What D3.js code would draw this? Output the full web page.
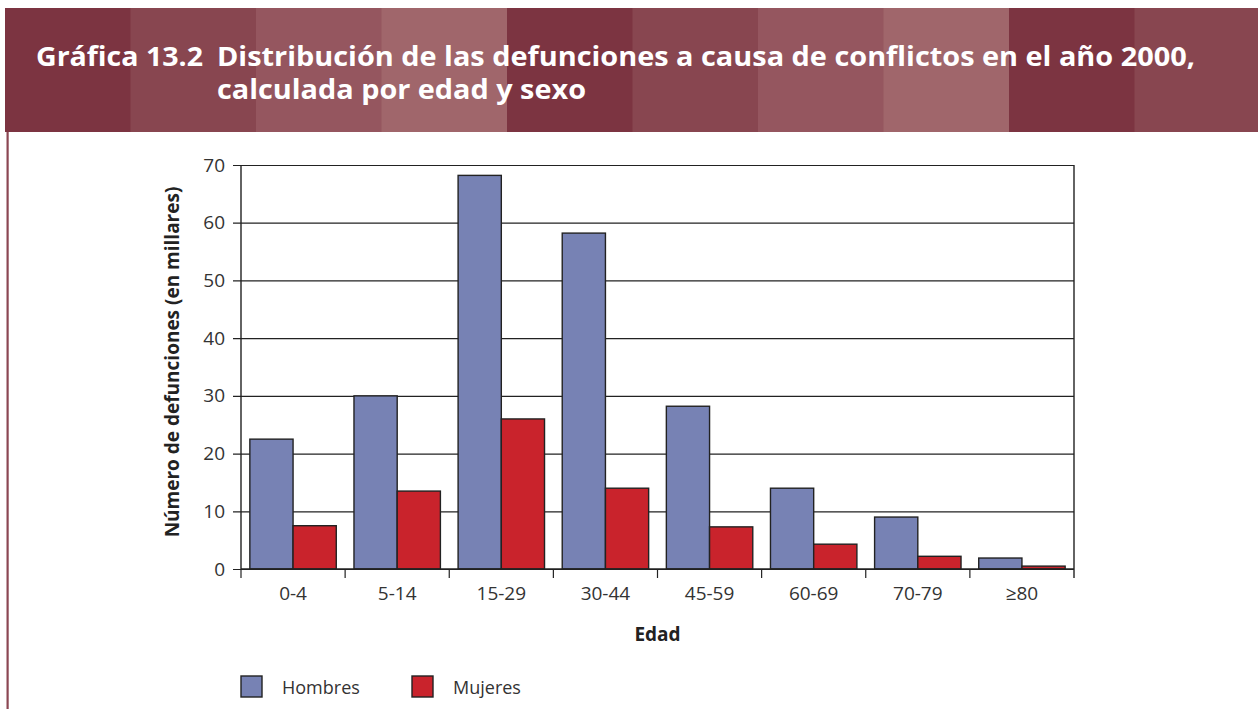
<!DOCTYPE html>
<html>
<head>
<meta charset="utf-8">
<script src="https://cdn.jsdelivr.net/npm/d3@7"></script>
<style>
  html, body { margin: 0; padding: 0; background: #fff; }
  svg { display: block; }
  text { font-family: "Open Sans", "Noto Sans", sans-serif; }
</style>
</head>
<body>
<svg id="chart" width="1258" height="709"></svg>
<script>
// Age groups and deaths (thousands) by sex
const categories = ["0-4", "5-14", "15-29", "30-44", "45-59", "60-69", "70-79", "\u226580"];
const hombres = [22.5, 30.0, 68.2, 58.2, 28.2, 14.0, 9.0, 1.9];
const mujeres = [7.5, 13.5, 26.0, 14.0, 7.3, 4.3, 2.2, 0.5];
const yTicks = [0, 10, 20, 30, 40, 50, 60, 70];
const seriesNames = ["Hombres", "Mujeres"];
const seriesColors = ["#7782b4", "#c9232c"];

const titleLabel = "Gráfica 13.2";
const titleLines = ["Distribución de las defunciones a causa de conflictos en el año 2000,",
                    "calculada por edad y sexo"];
const titleLineWidths = [978, 369];
const stripeColors = ["#7c3441", "#884650", "#95565f", "#a0666b"];

const svg = d3.select("#chart");

// Banded header
const header = svg.append("g");
const stripeW = 125.5;
const stripeIdx = d3.range(10);
header.selectAll("rect").data(stripeIdx).join("rect")
  .attr("x", i => 5 + i * stripeW)
  .attr("y", 8)
  .attr("width", i => Math.min(stripeW + 0.5, 1258 - (5 + i * stripeW)))
  .attr("height", 124)
  .attr("fill", i => stripeColors[i % 4]);

header.append("text")
  .attr("x", 36).attr("y", 66)
  .attr("fill", "#fff").attr("font-size", 26.5).attr("font-weight", 700)
  .attr("textLength", 167).attr("lengthAdjust", "spacingAndGlyphs")
  .text(titleLabel);
header.selectAll("text.line").data(titleLines).join("text")
  .attr("class", "line")
  .attr("x", 217).attr("y", (d, i) => 66 + i * 33)
  .attr("fill", "#fff").attr("font-size", 26.5).attr("font-weight", 700)
  .attr("textLength", (d, i) => titleLineWidths[i]).attr("lengthAdjust", "spacingAndGlyphs")
  .text(d => d);

// Left frame rule
svg.append("rect").attr("x", 6.5).attr("y", 132).attr("width", 2.2).attr("height", 577)
  .attr("fill", "#8b4753");

// Plot area
const pLeft = 241, pRight = 1074, pTop = 165, pBottom = 569;
const x = d3.scaleBand().domain(categories).range([pLeft, pRight]).paddingInner(0.17).paddingOuter(0.085);
const xCat = d3.scaleBand().domain(categories).range([pLeft, pRight]);
const xSub = d3.scaleBand().domain(seriesNames).range([0, x.bandwidth()]);
const y = d3.scaleLinear().domain([0, 70]).range([pBottom, pTop]);

const plot = svg.append("g");

// Gridlines with outward ticks on the left
plot.append("g")
  .attr("transform", `translate(${pLeft},0)`)
  .call(d3.axisLeft(y).tickValues(yTicks).tickSize(-(pRight - pLeft)).tickSizeOuter(0).tickPadding(0))
  .call(g => g.select(".domain").remove())
  .call(g => g.selectAll(".tick line").attr("x1", -8).attr("stroke", "#222").attr("stroke-width", 1.2))
  .call(g => g.selectAll(".tick text").attr("x", -16).attr("fill", "#333").attr("font-size", 19)
    .attr("font-family", "Open Sans, sans-serif"));

// Left and right frame
plot.append("line").attr("x1", pLeft).attr("x2", pLeft).attr("y1", pTop).attr("y2", pBottom)
  .attr("stroke", "#222").attr("stroke-width", 1.4);
plot.append("line").attr("x1", pRight).attr("x2", pRight).attr("y1", pTop).attr("y2", pBottom + 9)
  .attr("stroke", "#222").attr("stroke-width", 1.4);

// Bars
const groups = plot.selectAll("g.grp").data(categories).join("g")
  .attr("class", "grp")
  .attr("transform", d => `translate(${x(d)},0)`);
groups.selectAll("rect").data((d, i) => [
    { s: seriesNames[0], v: hombres[i], c: seriesColors[0] },
    { s: seriesNames[1], v: mujeres[i], c: seriesColors[1] }
  ]).join("rect")
  .attr("x", d => xSub(d.s))
  .attr("y", d => y(d.v))
  .attr("width", xSub.bandwidth())
  .attr("height", d => y(0) - y(d.v))
  .attr("fill", d => d.c)
  .attr("stroke", "#222").attr("stroke-width", 1.4);

// X axis with ticks at category boundaries
const xAxis = plot.append("g").attr("transform", `translate(0,${pBottom})`);
xAxis.append("line").attr("x1", pLeft).attr("x2", pRight).attr("stroke", "#222").attr("stroke-width", 1.4);
xAxis.selectAll("line.tk").data(categories).join("line")
  .attr("class", "tk")
  .attr("x1", d => xCat(d)).attr("x2", d => xCat(d))
  .attr("y1", 0).attr("y2", 9)
  .attr("stroke", "#222").attr("stroke-width", 1.2);
xAxis.selectAll("text").data(categories).join("text")
  .attr("x", d => xCat(d) + xCat.bandwidth() / 2)
  .attr("y", 31)
  .attr("text-anchor", "middle")
  .attr("fill", "#333").attr("font-size", 19)
  .text(d => d);

// Axis titles
svg.append("text")
  .attr("x", (pLeft + pRight) / 2).attr("y", 641)
  .attr("text-anchor", "middle").attr("font-weight", 700).attr("font-size", 19).attr("fill", "#222")
  .text("Edad");
svg.append("text")
  .attr("transform", `translate(179,${(pTop + pBottom) / 2 - 5}) rotate(-90)`)
  .attr("text-anchor", "middle").attr("font-weight", 700).attr("font-size", 19).attr("fill", "#222")
  .text("Número de defunciones (en millares)");

// Legend
const legend = svg.append("g").attr("transform", "translate(241,676)");
const legItems = legend.selectAll("g").data(seriesNames).join("g")
  .attr("transform", (d, i) => `translate(${i * 171},0)`);
legItems.append("rect").attr("width", 21).attr("height", 21)
  .attr("fill", (d, i) => seriesColors[i]).attr("stroke", "#222").attr("stroke-width", 1.4);
legItems.append("text").attr("x", 41).attr("y", 18)
  .attr("fill", "#333").attr("font-size", 18).text(d => d);
</script>
</body>
</html>
